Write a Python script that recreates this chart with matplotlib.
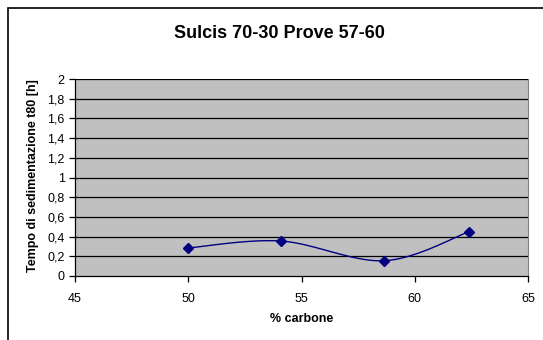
import numpy as np
import matplotlib
matplotlib.use("Agg")
import matplotlib.pyplot as plt
from matplotlib.patches import Rectangle

title = "Sulcis 70-30 Prove 57-60"
xlabel = "% carbone"
ylabel = "Tempo di sedimentazione t80 [h]"
carbone = [50.0, 54.1, 58.65, 62.4]
tempo = [0.285, 0.355, 0.155, 0.45]
xticks = [45, 50, 55, 60, 65]
yticks = [0, 0.2, 0.4, 0.6, 0.8, 1.0, 1.2, 1.4, 1.6, 1.8, 2.0]

plt.rcParams['font.family'] = ['Liberation Sans', 'DejaVu Sans']

def smooth(xs, ys, n=30):
    xs = np.asarray(xs, float); ys = np.asarray(ys, float)
    px = np.concatenate([[xs[0]], xs, [xs[-1]]])
    py = np.concatenate([[ys[0]], ys, [ys[-1]]])
    ox, oy = [], []
    for i in range(1, len(px) - 2):
        p0, p1, p2, p3 = (np.array([px[j], py[j]]) for j in (i - 1, i, i + 1, i + 2))
        c1 = p1 + (p2 - p0) / 6.0
        c2 = p2 - (p3 - p1) / 6.0
        t = np.linspace(0, 1, n)[:, None]
        b = ((1 - t) ** 3) * p1 + 3 * ((1 - t) ** 2) * t * c1 + 3 * (1 - t) * t ** 2 * c2 + t ** 3 * p2
        ox.extend(b[:, 0]); oy.extend(b[:, 1])
    return ox, oy

fig = plt.figure(figsize=(5.43, 3.4), dpi=100)
fig.patches.append(Rectangle((8 / 543, -0.1), 1.2, 1 - 8 / 340 + 0.1, transform=fig.transFigure,
                             fill=False, edgecolor='black', linewidth=1.2))
ax = fig.add_axes([75 / 543, 64 / 340, 453 / 543, 197 / 340])
ax.set_facecolor('#C0C0C0')
ax.set_xlim(45, 65)
ax.set_ylim(0, 2)
ax.set_xticks(xticks)
ax.set_xticklabels([str(v) for v in xticks])
ax.set_yticks(yticks)
ax.set_yticklabels([('%g' % v).replace('.', ',') for v in yticks])
for v in yticks[1:]:
    ax.axhline(v, color='black', linewidth=0.9, zorder=1)
ax.spines['top'].set_visible(False)
ax.spines['right'].set_color('#808080')
ax.spines['right'].set_linewidth(0.8)
ax.spines['left'].set_linewidth(0.9)
ax.spines['bottom'].set_linewidth(0.9)
ax.tick_params(axis='both', direction='out', length=4, width=0.9, labelsize=9, colors='black')
ax.tick_params(axis='x', pad=8)

sx, sy = smooth(carbone, tempo)
ax.plot(sx, sy, color='#000080', linewidth=1, zorder=3)
ax.plot(carbone, tempo, linestyle='none', marker='D', markersize=5, color='#000080', zorder=4)

fig.text(279 / 543, 1 - 33 / 340, title, ha='center', va='center', fontsize=13, fontweight='bold')
fig.text(302 / 543, 1 - 319 / 340, xlabel, ha='center', va='center', fontsize=9, fontweight='bold')
fig.text(33 / 543, 1 - 176 / 340, ylabel, ha='center', va='center', rotation=90, fontsize=9, fontweight='bold')

fig.savefig('out.png', dpi=100)
